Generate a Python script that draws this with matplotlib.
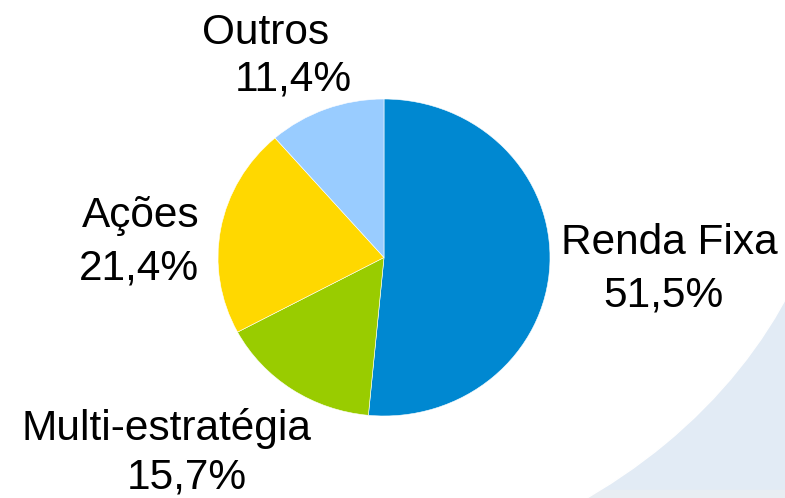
import matplotlib.pyplot as plt
from matplotlib.patches import Ellipse, Rectangle

plt.rcParams['font.family'] = ['Liberation Sans', 'DejaVu Sans']

categorias = ['Renda Fixa', 'Multi-estratégia', 'Ações', 'Outros']
valores = [51.5, 15.7, 21.4, 11.4]
cores = ['#0088D1', '#99CC00', '#FFD800', '#99CCFF']

W, H = 785, 498
fig = plt.figure(figsize=(W / 100, H / 100), dpi=100)

# fundo: faixa azul clara no canto inferior direito
px = fig.dpi_scale_trans
fig.add_artist(Rectangle((5.4, 0), 2.45, 4.1, color='#E2EBF5', transform=px, zorder=0))
fig.add_artist(Rectangle((0, 0), 7.85, 0.08, color='#E8EDF2', transform=px, zorder=0))
fig.add_artist(Ellipse((2.5, 3.98), 11.74, 9.72, color='white', transform=px, zorder=0))

# pizza (levemente achatada como na imagem)
ax = fig.add_axes([218 / W, (H - 416) / H, 332 / W, 317 / H])
ax.pie(valores, colors=cores, startangle=90, counterclock=False,
       wedgeprops=dict(linewidth=0.4, edgecolor='white'))
ax.set_aspect('auto')
ax.set_xlim(-1, 1)
ax.set_ylim(-1, 1)
ax.patch.set_alpha(0)

# rótulos (nome, percentual) em pixels
pos_nome = [(669, 243), (166, 428), (141, 216), (266, 33)]
pos_valor = [(663, 296), (187, 478), (139, 268), (293, 80)]
for nome, v, (x1, y1), (x2, y2) in zip(categorias, valores, pos_nome, pos_valor):
    fig.text(x1 / W, 1 - y1 / H, nome, ha='center', va='center', fontsize=30.5)
    fig.text(x2 / W, 1 - y2 / H, f'{v:.1f}%'.replace('.', ','),
             ha='center', va='center', fontsize=30.5)

fig.savefig('out.png', dpi=100)
